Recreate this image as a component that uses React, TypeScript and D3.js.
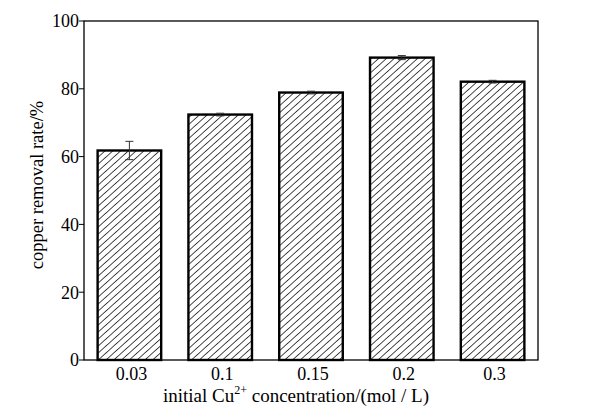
import { useEffect, useRef } from "react";
import * as d3 from "d3";

const CATEGORIES = ["0.03", "0.1", "0.15", "0.2", "0.3"];
const REMOVAL = [61.8, 72.4, 78.9, 89.2, 82.1];
const ERRORS = [2.7, 0.4, 0.4, 0.6, 0.4];
const Y_TICKS = [0, 20, 40, 60, 80, 100];

const W = 609;
const H = 419;
const MARGIN = { top: 21, right: 71, bottom: 59, left: 84 };
const FONT = "'Liberation Serif', 'Times New Roman', serif";

export default function App() {
  const svgRef = useRef<SVGSVGElement>(null);

  useEffect(() => {
    const svg = d3.select(svgRef.current!);
    svg.selectAll("*").remove();

    const x = d3
      .scaleBand<string>()
      .domain(CATEGORIES)
      .range([MARGIN.left, W - MARGIN.right])
      .paddingInner(0.3)
      .paddingOuter(0.15);
    const y = d3
      .scaleLinear()
      .domain([0, 100])
      .range([H - MARGIN.bottom, MARGIN.top]);

    // dense diagonal hatch, like the scanned original
    const defs = svg.append("defs");
    const pat = defs
      .append("pattern")
      .attr("id", "hatch")
      .attr("patternUnits", "userSpaceOnUse")
      .attr("width", 5.2)
      .attr("height", 5.2)
      .attr("patternTransform", "rotate(48)");
    pat.append("rect").attr("width", 5.2).attr("height", 5.2).attr("fill", "#fff");
    pat
      .append("line")
      .attr("x1", 0)
      .attr("x2", 0)
      .attr("y1", 0)
      .attr("y2", 5.2)
      .attr("stroke", "#111")
      .attr("stroke-width", 1.5);

    // frame
    svg
      .append("rect")
      .attr("x", MARGIN.left)
      .attr("y", MARGIN.top)
      .attr("width", W - MARGIN.left - MARGIN.right)
      .attr("height", H - MARGIN.top - MARGIN.bottom)
      .attr("fill", "none")
      .attr("stroke", "#000")
      .attr("stroke-width", 1.3);

    // bars
    svg
      .append("g")
      .selectAll("rect")
      .data(REMOVAL)
      .enter()
      .append("rect")
      .attr("x", (_, i) => x(CATEGORIES[i])!)
      .attr("y", (d) => y(d))
      .attr("width", x.bandwidth())
      .attr("height", (d) => y(0) - y(d))
      .attr("fill", "url(#hatch)")
      .attr("stroke", "#000")
      .attr("stroke-width", 2.4);

    // error bars
    const eb = svg.append("g").attr("stroke", "#333").attr("stroke-width", 1);
    REMOVAL.forEach((v, i) => {
      const cx = x(CATEGORIES[i])! + x.bandwidth() / 2;
      const e = ERRORS[i];
      eb.append("line")
        .attr("x1", cx)
        .attr("x2", cx)
        .attr("y1", y(v + e))
        .attr("y2", y(v - e));
      [v + e, v - e].forEach((c) =>
        eb
          .append("line")
          .attr("x1", cx - 4)
          .attr("x2", cx + 4)
          .attr("y1", y(c))
          .attr("y2", y(c)),
      );
    });

    // y ticks + labels
    const yt = svg.append("g");
    yt.selectAll("line")
      .data(Y_TICKS)
      .enter()
      .append("line")
      .attr("x1", MARGIN.left - 5)
      .attr("x2", MARGIN.left)
      .attr("y1", (d) => y(d))
      .attr("y2", (d) => y(d))
      .attr("stroke", "#000")
      .attr("stroke-width", 1);
    yt.selectAll("text")
      .data(Y_TICKS)
      .enter()
      .append("text")
      .attr("x", MARGIN.left - 5)
      .attr("y", (d) => y(d))
      .attr("dy", "0.35em")
      .attr("text-anchor", "end")
      .attr("font-family", FONT)
      .attr("font-size", 18)
      .text((d) => d);

    // x labels
    svg
      .append("g")
      .selectAll("text")
      .data(CATEGORIES)
      .enter()
      .append("text")
      .attr("x", (d) => x(d)! + x.bandwidth() / 2 + 2)
      .attr("y", H - MARGIN.bottom + 20)
      .attr("text-anchor", "middle")
      .attr("font-family", FONT)
      .attr("font-size", 18)
      .text((d) => d);

    // axis titles
    const xt = svg
      .append("text")
      .attr("x", 296)
      .attr("y", 402)
      .attr("text-anchor", "middle")
      .attr("font-family", FONT)
      .attr("font-size", 19);
    xt.append("tspan").text("initial Cu");
    xt.append("tspan").attr("font-size", 12).attr("dy", -8).text("2+");
    xt.append("tspan").attr("dy", 8).text(" concentration/(mol / L)");

    svg
      .append("text")
      .attr("transform", `translate(43,185) rotate(-90)`)
      .attr("text-anchor", "middle")
      .attr("font-family", FONT)
      .attr("font-size", 18.5)
      .text("copper removal rate/%");
  }, []);

  return (
    <svg
      ref={svgRef}
      width={W}
      height={H}
      style={{ display: "block", position: "absolute", left: 0, top: 0, background: "#fff" }}
    />
  );
}
